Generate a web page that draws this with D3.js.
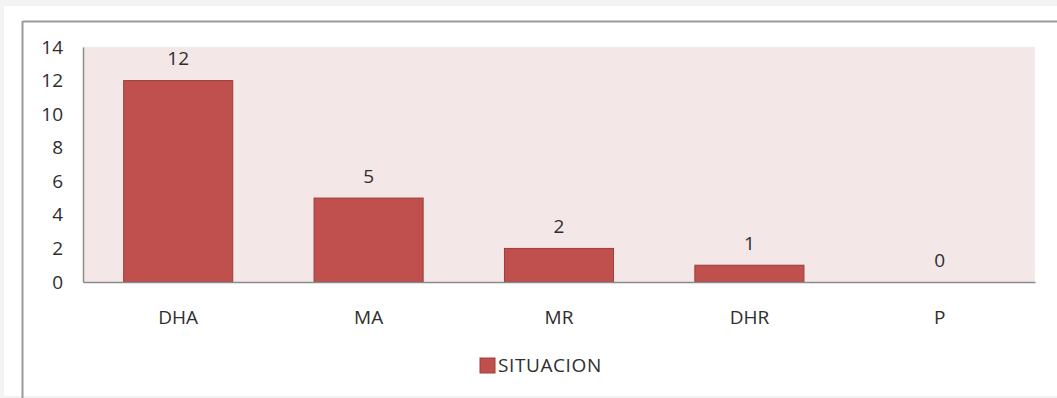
<!DOCTYPE html>
<html>
<head>
<meta charset="utf-8">
<script src="https://cdn.jsdelivr.net/npm/d3@7"></script>
<style>
  html, body { margin: 0; padding: 0; background: #f3f3f3; }
  svg { display: block; }
  text { font-family: "Open Sans", Lato, sans-serif; fill: #2e2e2e; }
</style>
</head>
<body>
<script>
const categories = ["DHA", "MA", "MR", "DHR", "P"];
const values = [12, 5, 2, 1, 0];
const yTicks = [0, 2, 4, 6, 8, 10, 12, 14];
const seriesName = "SITUACION";

const W = 1057, H = 398;
const FS = 19;
const svg = d3.select("body").append("svg").attr("width", W).attr("height", H);

// page / frame
svg.append("rect").attr("x", 0).attr("y", 0).attr("width", W).attr("height", H).attr("fill", "#f3f3f3");
svg.append("rect").attr("x", 4).attr("y", 6).attr("width", W - 4).attr("height", H - 8).attr("fill", "#fff");
svg.append("line").attr("x1", 23).attr("x2", W).attr("y1", 21.5).attr("y2", 21.5).attr("stroke", "#9a9a9a").attr("stroke-width", 2);
svg.append("line").attr("x1", 22.5).attr("x2", 22.5).attr("y1", 21).attr("y2", H).attr("stroke", "#9a9a9a").attr("stroke-width", 2);

const plot = { left: 83, right: 1035, top: 47, bottom: 282 };

const x = d3.scaleBand().domain(categories).range([plot.left, plot.right])
  .paddingInner(0.427).paddingOuter(0.2135);
const y = d3.scaleLinear().domain([0, 14]).range([plot.bottom, plot.top]);

svg.append("rect").attr("x", plot.left).attr("y", plot.top)
  .attr("width", plot.right - plot.left).attr("height", plot.bottom - plot.top)
  .attr("fill", "#f3e7e7");

// bars
svg.selectAll("rect.bar").data(values).enter().append("rect").attr("class", "bar")
  .attr("x", (d, i) => x(categories[i]))
  .attr("y", d => y(d))
  .attr("width", x.bandwidth())
  .attr("height", d => y(0) - y(d))
  .attr("fill", "#c0504d")
  .attr("stroke", "#9b3e3b").attr("stroke-width", d => d > 0 ? 1 : 0);

// value labels
svg.selectAll("text.val").data(values).enter().append("text").attr("class", "val")
  .attr("x", (d, i) => x(categories[i]) + x.bandwidth() / 2)
  .attr("y", d => y(d) - 22)
  .attr("dy", "0.35em")
  .attr("text-anchor", "middle")
  .attr("font-size", FS)
  .text(d => d);

// y axis
const yAxis = d3.axisLeft(y).tickValues(yTicks).tickSize(0).tickPadding(20);
const gy = svg.append("g").attr("transform", `translate(${plot.left},0)`).call(yAxis);
gy.select(".domain").attr("stroke", "#8a8a8a").attr("stroke-width", 1.5);
gy.selectAll("text").attr("font-size", FS).attr("font-family", "'Open Sans', sans-serif").attr("fill", "#2e2e2e");

// x axis
const xAxis = d3.axisBottom(x).tickSize(0).tickPadding(29);
const gx = svg.append("g").attr("transform", `translate(0,${plot.bottom})`).call(xAxis);
gx.select(".domain").attr("stroke", "#8a8a8a").attr("stroke-width", 1.5);
gx.selectAll("text").attr("font-size", FS).attr("font-family", "'Open Sans', sans-serif").attr("fill", "#2e2e2e");

// legend
const lg = svg.append("g").attr("transform", "translate(480,358)");
lg.append("rect").attr("x", 0).attr("y", 0).attr("width", 15).attr("height", 15)
  .attr("fill", "#c0504d").attr("stroke", "#9b3e3b").attr("stroke-width", 1);
lg.append("text").attr("x", 18).attr("y", 7.5).attr("dy", "0.35em")
  .attr("font-size", FS).attr("letter-spacing", 0.6).text(seriesName);
</script>
</body>
</html>
